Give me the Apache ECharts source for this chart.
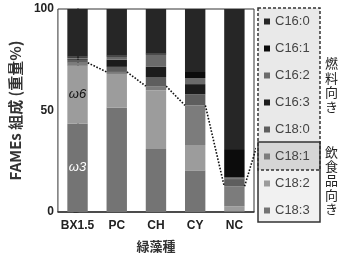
<!DOCTYPE html>
<html lang="ja">
<head>
<meta charset="UTF-8">
<title>FAMEs 組成</title>
<script src="https://cdn.jsdelivr.net/npm/echarts@6/dist/echarts.min.js"></script>
<style>
  body { margin: 0; background: #fff; }
  #main { width: 342px; height: 258px; }
</style>
</head>
<body>
<div id="main"></div>
<script>
// 緑藻種ごとの脂肪酸組成 (重量%)
const categories = ['BX1.5', 'PC', 'CH', 'CY', 'NC'];
const fameNames = ['C16:0', 'C16:1', 'C16:2', 'C16:3', 'C18:0', 'C18:1', 'C18:2', 'C18:3'];
const c16_0 = [23.5, 23, 22, 31, 69];
const c16_1 = [0.5, 0.5, 0.5, 3, 14];
const c16_2 = [0.5, 1.5, 6, 3, 0.5];
const c16_3 = [0.5, 3.5, 5, 5, 0.3];
const c18_0 = [1.5, 2.5, 4.5, 5.5, 3.5];
const c18_1 = [1.5, 1, 2, 19.5, 9.9];
const c18_2 = [28.5, 16.5, 29, 12.5, 2.3];
const c18_3 = [43.5, 51.5, 31, 20.5, 0.5];
const yTicks = [0, 50, 100];

const colors = {
  'C16:0': '#262626', 'C16:1': '#0c0c0c', 'C16:2': '#6b6b6b', 'C16:3': '#1c1c1c',
  'C18:0': '#5e5e5e', 'C18:1': '#7c7c7c', 'C18:2': '#9c9c9c', 'C18:3': '#747474'
};
// 下から積み上げる順
const stackOrder = [
  ['C18:3', c18_3], ['C18:2', c18_2], ['C18:1', c18_1], ['C18:0', c18_0],
  ['C16:3', c16_3], ['C16:2', c16_2], ['C16:1', c16_1], ['C16:0', c16_0]
];

const halfBar = 0.26;
// 飲食品向き (C18:3 + C18:2 + C18:1) の上端
const foodTop = categories.map((c, i) => c18_3[i] + c18_2[i] + c18_1[i]);

const chart = echarts.init(document.getElementById('main'));

const barSeries = stackOrder.map(([name, values]) => ({
  name: name,
  type: 'bar',
  stack: 'fame',
  barWidth: '52%',
  itemStyle: { color: colors[name] },
  emphasis: { disabled: true },
  data: values.map((v, i) => {
    if (i === 0 && name === 'C18:2') {
      return { value: v, label: { show: true, formatter: 'ω6', color: '#111' } };
    }
    if (i === 0 && name === 'C18:3') {
      return { value: v, label: { show: true, formatter: 'ω3', color: '#fff' } };
    }
    return v;
  }),
  label: {
    show: false, position: 'inside', fontStyle: 'italic', fontSize: 13,
    fontFamily: 'Liberation Sans'
  }
}));

// 棒と棒の間を結ぶ点線
const dotSeries = [];
for (let i = 0; i < categories.length - 1; i++) {
  dotSeries.push({
    type: 'line', xAxisIndex: 1, yAxisIndex: 0, symbol: 'none', silent: true, z: 5,
    lineStyle: { type: 'dotted', width: 1.6, color: '#111' },
    data: [[i + halfBar, foodTop[i]], [i + 1 - halfBar, foodTop[i + 1]]]
  });
}

const legendBox = { x: 258, top: 8, split1: 142, split2: 170, bottom: 222, width: 62 };

chart.setOption({
  animation: false,
  grid: { left: 40, right: 88, top: 9, bottom: 36, show: true, borderColor: '#333', borderWidth: 1 },
  legend: {
    data: fameNames,
    orient: 'vertical',
    left: 264, top: 14,
    padding: 0,
    itemWidth: 6, itemHeight: 6, itemGap: 12,
    icon: 'rect',
    z: 10,
    textStyle: { fontSize: 13, color: '#444', fontFamily: 'Liberation Sans', lineHeight: 15 }
  },
  xAxis: [{
    type: 'category',
    data: categories,
    name: '緑藻種',
    nameLocation: 'middle',
    nameGap: 28,
    nameTextStyle: { fontSize: 13, fontWeight: 'bold', color: '#333', fontFamily: 'Noto Sans CJK JP' },
    axisLine: { lineStyle: { color: '#333', width: 1.5 } },
    axisTick: { show: false },
    axisLabel: { interval: 0, fontSize: 12, fontWeight: 'bold', color: '#222', margin: 8, fontFamily: 'Liberation Sans' }
  }, {
    type: 'value', min: -0.5, max: categories.length - 0.5, show: false
  }],
  yAxis: {
    type: 'value', min: yTicks[0], max: yTicks[yTicks.length - 1], interval: 50,
    name: 'FAMEs 組成 (重量%)',
    nameLocation: 'middle',
    nameGap: 27,
    nameTextStyle: { fontSize: 15, fontWeight: 'bold', color: '#333', fontFamily: 'Noto Sans CJK JP' },
    axisLine: { show: true, lineStyle: { color: '#333', width: 1.5 } },
    axisTick: { show: true, length: 4, lineStyle: { color: '#333' } },
    splitLine: { show: false },
    axisLabel: { fontSize: 12, fontWeight: 'bold', color: '#222', margin: 4, fontFamily: 'Liberation Sans' }
  },
  graphic: [
    { type: 'rect', z: 0, silent: true,
      shape: { x: legendBox.x, y: legendBox.top, width: legendBox.width, height: legendBox.split1 - legendBox.top },
      style: { fill: '#e9e9e9' } },
    { type: 'rect', z: 0, silent: true,
      shape: { x: legendBox.x, y: legendBox.split1, width: legendBox.width, height: legendBox.split2 - legendBox.split1 },
      style: { fill: '#d6d6d6' } },
    { type: 'rect', z: 0, silent: true,
      shape: { x: legendBox.x, y: legendBox.split2, width: legendBox.width, height: legendBox.bottom - legendBox.split2 },
      style: { fill: '#f1f1f1' } },
    { type: 'rect', z: 1, silent: true,
      shape: { x: legendBox.x, y: legendBox.top, width: legendBox.width, height: legendBox.split2 - legendBox.top },
      style: { fill: 'none', stroke: '#333', lineWidth: 1.5, lineDash: [3, 2] } },
    { type: 'rect', z: 1, silent: true,
      shape: { x: legendBox.x, y: legendBox.split1, width: legendBox.width, height: legendBox.bottom - legendBox.split1 },
      style: { fill: 'none', stroke: '#333', lineWidth: 1.5 } },
    { type: 'text', left: 325, top: 56, silent: true,
      style: { text: '燃\n料\n向\nき', fontSize: 13, lineHeight: 14.5, fill: '#222', fontFamily: 'Noto Sans CJK JP' } },
    { type: 'text', left: 325, top: 145, silent: true,
      style: { text: '飲\n食\n品\n向\nき', fontSize: 13, lineHeight: 14.2, fill: '#222', fontFamily: 'Noto Sans CJK JP' } }
  ],
  series: barSeries.concat(dotSeries)
});

// NC の右端から凡例の C18:1 上端までの点線
const last = categories.length - 1;
const target = chart.convertFromPixel({ xAxisIndex: 1, yAxisIndex: 0 }, [legendBox.x, legendBox.split1]);
dotSeries.push({
  type: 'line', xAxisIndex: 1, yAxisIndex: 0, symbol: 'none', silent: true, z: 5, clip: false,
  lineStyle: { type: 'dotted', width: 1.6, color: '#111' },
  data: [[last + halfBar, foodTop[last]], target]
});
chart.setOption({ series: barSeries.concat(dotSeries) });
</script>
</body>
</html>
